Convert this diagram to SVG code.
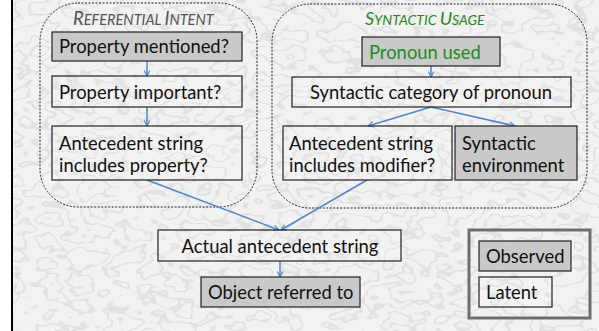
<svg xmlns="http://www.w3.org/2000/svg" width="599" height="331" viewBox="0 0 599 331">
<defs>
<filter id="marble" x="0" y="0" width="100%" height="100%" color-interpolation-filters="sRGB">
<feTurbulence type="fractalNoise" baseFrequency="0.03 0.045" numOctaves="3" seed="11" result="n"/>
<feColorMatrix type="matrix" in="n" values="0 0 0 0 0.45  0 0 0 0 0.45  0 0 0 0 0.47  1 0 0 0 0" result="a"/>
<feComponentTransfer in="a">
<feFuncA type="table" tableValues="0 0 0 0.7 0 0 0 0 0.7 0 0 0 0 0.7 0 0 0 0 0.7 0 0 0"/>
</feComponentTransfer>
</filter>
<marker id="ah" viewBox="0 0 10 10" refX="9" refY="5" markerWidth="7" markerHeight="7" orient="auto" markerUnits="userSpaceOnUse">
<path d="M1,1 L9,5 L1,9" fill="none" stroke="#4f87c9" stroke-width="1.6"/>
</marker>
<style>
.bg{fill:#f2f2f2}
.grp{fill:none;stroke:#222;stroke-width:1;stroke-dasharray:2 1.5}
.obs{fill:#c9c9c9;stroke:#222;stroke-width:1.2}
.lat{fill:#ffffff;fill-opacity:0.12;stroke:#222;stroke-width:1.2}
.t{font-family:Lato,"Liberation Sans",sans-serif;font-size:18.4px;fill:#111}
.ttl{font-family:Lato,"Liberation Sans",sans-serif;font-style:italic;fill:#555}
.green{fill:#1e8a1e}
.edge{fill:none;stroke:#4f87c9;stroke-width:1.5;marker-end:url(#ah)}
</style>
</defs>
<rect x="0" y="0" width="599" height="331" fill="#ffffff"/>
<rect class="bg" x="13" y="0" width="586" height="331"/>
<rect x="13" y="0" width="586" height="331" fill="#fff" filter="url(#marble)" opacity="0.22"/>
<line x1="12" y1="0" x2="12" y2="331" stroke="#000" stroke-width="2"/>

<g id="referential-intent">
<rect class="grp" x="40" y="3" width="217" height="204" rx="38"/>
<text class="ttl" x="73" y="25"><tspan font-size="18.5">R</tspan><tspan font-size="14.5">EFERENTIAL </tspan><tspan font-size="18.5">I</tspan><tspan font-size="14.5">NTENT</tspan></text>
</g>
<g id="syntactic-usage">
<rect class="grp" x="272" y="4" width="315" height="204" rx="38"/>
<text class="ttl green" x="365" y="25"><tspan font-size="18">S</tspan><tspan font-size="14">YNTACTIC </tspan><tspan font-size="18">U</tspan><tspan font-size="14">SAGE</tspan></text>
</g>

<g id="connectors">
<line class="edge" x1="147" y1="61" x2="147" y2="76"/>
<line class="edge" x1="147" y1="107" x2="147" y2="126"/>
<line class="edge" x1="431" y1="66" x2="431" y2="77"/>
<line class="edge" x1="431" y1="107" x2="368" y2="126"/>
<line class="edge" x1="431" y1="107" x2="515" y2="126"/>
<line class="edge" x1="147" y1="180" x2="279" y2="230"/>
<line class="edge" x1="367" y1="180" x2="281" y2="230"/>
<line class="edge" x1="280" y1="261" x2="280" y2="277"/>
</g>

<g id="property-mentioned">
<rect class="obs" x="52" y="32" width="190" height="29"/>
<text class="t" x="59" y="53">Property mentioned?</text>
</g>
<g id="property-important">
<rect class="lat" x="52" y="76" width="190" height="31"/>
<text class="t" x="59" y="99">Property important?</text>
</g>
<g id="antecedent-includes-property">
<rect class="lat" x="52" y="126" width="190" height="54"/>
<text class="t" x="59" y="150">Antecedent string</text>
<text class="t" x="59" y="172">includes property?</text>
</g>
<g id="pronoun-used">
<rect class="obs" x="362" y="37" width="138" height="29"/>
<text class="t green" x="369" y="59">Pronoun used</text>
</g>
<g id="syntactic-category">
<rect class="lat" x="292" y="77" width="279" height="30"/>
<text class="t" x="431" y="99" text-anchor="middle">Syntactic category of pronoun</text>
</g>
<g id="antecedent-includes-modifier">
<rect class="lat" x="283" y="126" width="169" height="54"/>
<text class="t" x="289" y="150">Antecedent string</text>
<text class="t" x="289" y="172">includes modifier?</text>
</g>
<g id="syntactic-environment">
<rect class="obs" x="455" y="126" width="122" height="54"/>
<text class="t" x="462" y="150">Syntactic</text>
<text class="t" x="462" y="172">environment</text>
</g>
<g id="actual-antecedent">
<rect class="lat" x="158" y="230" width="243" height="31"/>
<text class="t" x="280" y="253" text-anchor="middle">Actual antecedent string</text>
</g>
<g id="object-referred">
<rect class="obs" x="201" y="277" width="159" height="30"/>
<text class="t" x="208" y="299">Object referred to</text>
</g>
<g id="legend">
<rect x="469" y="230" width="121" height="88" fill="none" stroke="#6e6e6e" stroke-width="3"/>
<rect class="obs" x="479" y="241" width="92" height="30"/>
<text class="t" x="486" y="263">Observed</text>
<rect class="lat" x="479" y="277" width="73" height="30"/>
<text class="t" x="486" y="299">Latent</text>
</g>
</svg>
